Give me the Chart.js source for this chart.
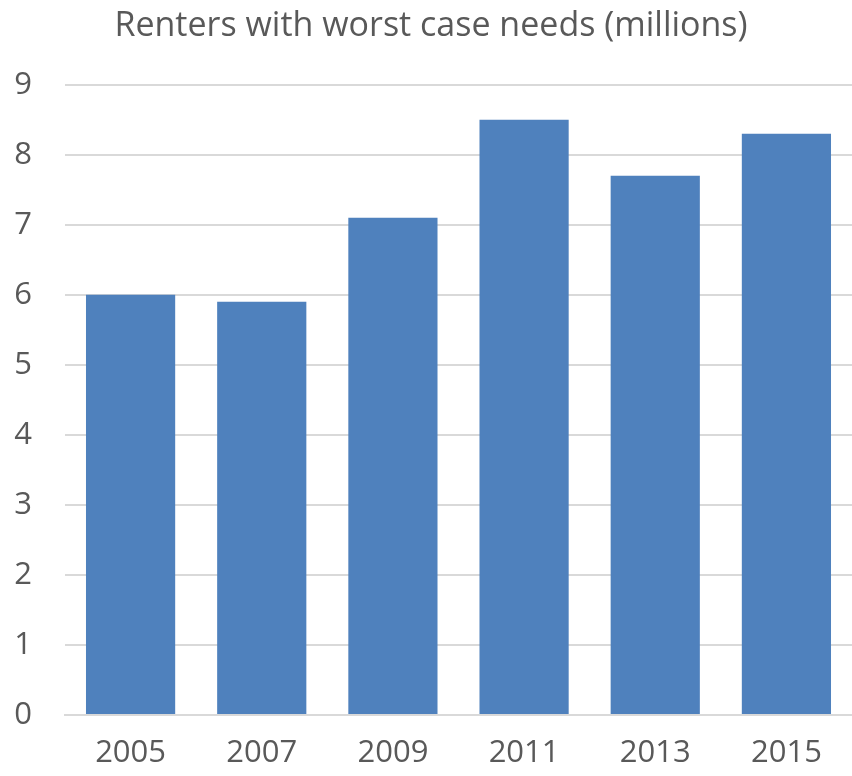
<!DOCTYPE html>
<html lang="en">
<head>
<meta charset="UTF-8">
<title>Renters with worst case needs</title>
<script src="https://cdn.jsdelivr.net/npm/chart.js"></script>
<style>
  html, body { margin: 0; padding: 0; background: #fff; }
  #wrap { width: 852px; height: 776px; }
</style>
</head>
<body>
<div id="wrap"><canvas id="myChart"></canvas></div>
<script>
// data
const years = ['2005', '2007', '2009', '2011', '2013', '2015'];
const renters = [6.0, 5.9, 7.1, 8.5, 7.7, 8.3];
const yTicks = [0, 1, 2, 3, 4, 5, 6, 7, 8, 9];

const textColor = '#595959';
const fontName = "'Open Sans', sans-serif";

const config = {
  type: 'bar',
  data: {
    labels: years,
    datasets: [{
      label: 'Renters with worst case needs (millions)',
      data: renters,
      backgroundColor: '#4F81BD',
      borderWidth: 0,
      categoryPercentage: 1,
      barPercentage: 0.68
    }]
  },
  options: {
    responsive: true,
    maintainAspectRatio: false,
    animation: false,
    layout: { padding: { left: 10, right: 0, top: 6, bottom: 0 } },
    plugins: {
      legend: { display: false },
      tooltip: { enabled: false },
      title: {
        display: true,
        text: 'Renters with worst case needs (millions)',
        color: textColor,
        font: { family: fontName, size: 34, weight: 'normal' },
        padding: { top: 0, bottom: 38 }
      }
    },
    scales: {
      x: {
        grid: { display: false, drawTicks: false },
        border: { display: true, color: '#d9d9d9', width: 2 },
        ticks: {
          color: textColor,
          font: { family: fontName, size: 31 },
          padding: 20,
          maxRotation: 0
        },
        afterFit: s => { s.height = 61; }
      },
      y: {
        min: 0,
        max: 9,
        afterBuildTicks: s => { s.ticks = yTicks.map(v => ({ value: v })); },
        grid: { color: '#d9d9d9', lineWidth: 2, drawTicks: false },
        border: { display: false },
        ticks: {
          color: textColor,
          font: { family: fontName, size: 31 },
          padding: 33
        },
        afterFit: s => { s.width = 55; }
      }
    }
  }
};

new Chart(document.getElementById('myChart'), config);
</script>
</body>
</html>
